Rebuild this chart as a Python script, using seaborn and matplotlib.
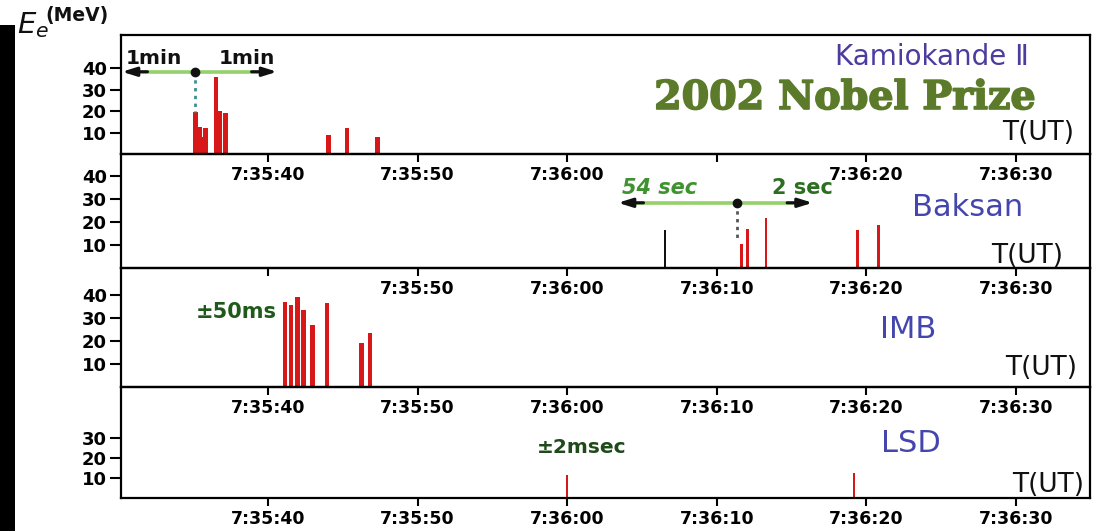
import numpy as np
import matplotlib
matplotlib.use("Agg")
import matplotlib.pyplot as plt
import matplotlib.patheffects as pe
from matplotlib.patches import Rectangle
import seaborn as sns

# SN 1987A neutrino bursts: event times in seconds after 7:35:00 UT, energies in MeV
kam_t = [35.12, 35.39, 35.59, 35.79, 36.52, 36.79, 37.13, 44.04, 45.28, 47.29]
kam_e = [19.8, 12.8, 7.9, 12.1, 36.1, 20.3, 19.1, 8.8, 12.1, 8.2]
bak_t = [71.66, 72.04, 73.29, 79.42, 80.80]
bak_e = [10.6, 17.0, 21.7, 16.7, 18.8]
bak_bg_t = [66.54]
bak_bg_e = [16.7]
imb_t = [41.14, 41.56, 41.97, 42.37, 42.97, 43.94, 46.25, 46.82]
imb_e = [37.0, 35.5, 39.1, 33.3, 26.8, 36.5, 19.1, 23.2]
lsd_t = [59.97, 79.19]
lsd_e = [11.5, 12.3]

tick_sec = [40, 50, 60, 70, 80, 90]
tick_lab = ["7:35:40", "7:35:50", "7:36:00", "7:36:10", "7:36:20", "7:36:30"]
detectors = ["Kamiokande Ⅱ", "Baksan", "IMB", "LSD"]
hidden_labels = [["7:36:10"], ["7:35:40"], [], []]
y_ticks = [[10, 20, 30, 40], [10, 20, 30, 40], [10, 20, 30, 40], [10, 20, 30]]

# Clock-offset arrows: (center, left tip, right tip, height)
kam_arrow = (35.12, 30.24, 40.6, 38.4)
bak_arrow = (71.36, 63.4, 76.4, 28.5)

W, H = 1105, 531
RED = "#d81818"
GREEN_LINE = "#95d16a"
DET_BLUE = "#4446ad"

sns.set_theme(style="ticks")
plt.rcParams["font.family"] = ["DejaVu Sans"]

fig = plt.figure(figsize=(W / 100, H / 100), dpi=100)
fig.patch.set_facecolor("white")
gs = fig.add_gridspec(4, 1, left=121 / W, right=1090 / W, top=1 - 35 / H,
                      bottom=1 - 498 / H, hspace=0,
                      height_ratios=[119.3, 114, 118.4, 111.3])
axes = [fig.add_subplot(gs[i]) for i in range(4)]
ytops = [55.5, 49.6, 51.5, 55.6]


def draw_events(ax, t, e, color, bar_sec):
    t = np.asarray(t, dtype=float)
    u = np.unique(t)
    unit = np.diff(u).min() if len(u) > 1 else 1.0
    sns.barplot(x=t, y=e, ax=ax, native_scale=True, orient="x", color=color,
                width=bar_sec / unit, errorbar=None, saturation=1,
                linewidth=0)


draw_events(axes[0], kam_t, kam_e, RED, 0.33)
draw_events(axes[1], bak_t, bak_e, RED, 0.18)
draw_events(axes[1], bak_bg_t, bak_bg_e, "#111111", 0.11)
draw_events(axes[2], imb_t, imb_e, RED, 0.28)
draw_events(axes[3], lsd_t, lsd_e, RED, 0.14)

for i, ax in enumerate(axes):
    ax.set_facecolor("none")
    ax.set_xlim(30.17, 94.95)
    ax.set_ylim(0, ytops[i])
    ax.set_xlabel("")
    ax.set_ylabel("")
    labs = ["" if lab in hidden_labels[i] else lab for lab in tick_lab]
    ax.set_xticks(tick_sec, labs)
    ax.set_yticks(y_ticks[i], [str(v) for v in y_ticks[i]])
    ax.tick_params(axis="x", direction="out", length=6, width=1.5, pad=2.5,
                   labelsize=12.5, colors="black")
    ax.tick_params(axis="y", direction="out", length=8, width=1.5, pad=2,
                   labelsize=13, colors="black")
    for lab in ax.get_xticklabels() + ax.get_yticklabels():
        lab.set_fontweight("bold")
    for sp in ax.spines.values():
        sp.set_visible(True)
        sp.set_linewidth(1.6)
        sp.set_color("black")
    ax.grid(False)

# clock-offset arrows with the first detected event marked
for ax, (c, lt, rt, y), dot_to, dcol in [
        (axes[0], kam_arrow, kam_e[0], "#3f8f8f"),
        (axes[1], bak_arrow, 12.3, "#555555")]:
    ax.plot([lt + 0.5, rt - 0.5], [y, y], color=GREEN_LINE, lw=2.6, zorder=3)
    for tip, back in [(lt, lt + 1.7), (rt, rt - 1.7)]:
        ax.annotate("", xy=(tip, y), xytext=(back, y),
                    arrowprops=dict(arrowstyle="-|>,head_length=0.7,head_width=0.22",
                                    color="#111111", lw=2.2,
                                    shrinkA=0, shrinkB=0), zorder=4)
    ax.plot([c, c], [y, dot_to], ls=(0, (1.2, 1.6)), color=dcol, lw=2, zorder=3)
    ax.plot([c], [y], "o", color="#111111", ms=6, zorder=5)

axes[0].text(32.4, 44.8, "1min", ha="center", va="center", fontsize=14.5,
             fontweight="bold", color="#111111")
axes[0].text(38.6, 44.8, "1min", ha="center", va="center", fontsize=14.5,
             fontweight="bold", color="#111111")
axes[1].text(66.2, 34.9, "54 sec", ha="center", va="center", fontsize=15,
             fontweight="bold", color="#3f9230", fontstyle="italic")
axes[1].text(75.7, 34.9, "2 sec", ha="center", va="center", fontsize=15,
             fontweight="bold", color="#2e6e22")
axes[2].text(37.9, 32.5, "±50ms", ha="center", va="center", fontsize=15,
             fontweight="bold", color="#1f5a1a")
axes[3].text(61.0, 25.0, "±2msec", ha="center", va="center", fontsize=14.5,
             fontweight="bold", color="#1f4a1a")


def ftext(x, y, s, **kw):
    return fig.text(x / W, 1 - y / H, s, **kw)


ftext(932, 57, detectors[0], ha="center", va="center", fontsize=20, color="#4c3c9e")
nobel = ftext(1036, 98, "2002 Nobel Prize", ha="right", va="center", fontsize=28.5,
              fontweight="bold", family="DejaVu Serif", color="#5b7a2a")
nobel.set_path_effects([pe.withStroke(linewidth=1.2, foreground="#5b7a2a")])
ftext(968, 207, detectors[1], ha="center", va="center", fontsize=22, color=DET_BLUE)
ftext(908, 330, detectors[2], ha="center", va="center", fontsize=22, color=DET_BLUE)
ftext(911, 444, detectors[3], ha="center", va="center", fontsize=22, color=DET_BLUE)
for xr, yc in [(1074, 133), (1063, 256), (1077, 368), (1084, 485)]:
    ftext(xr, yc, "T(UT)", ha="right", va="center", fontsize=19, color="#111111")

# vertical axis label
ftext(17, 25, r"$E_e$", ha="left", va="center", fontsize=21, color="#111111")
ftext(45, 16, "(MeV)", ha="left", va="center", fontsize=13.5, fontweight="bold",
      color="#111111")

# dark border strip along the left edge
fig.patches.append(Rectangle((0, 0), 15 / W, 1 - 25 / H, transform=fig.transFigure,
                             facecolor="black", edgecolor="none", zorder=0))

fig.savefig("out.png", dpi=100, facecolor="white")
